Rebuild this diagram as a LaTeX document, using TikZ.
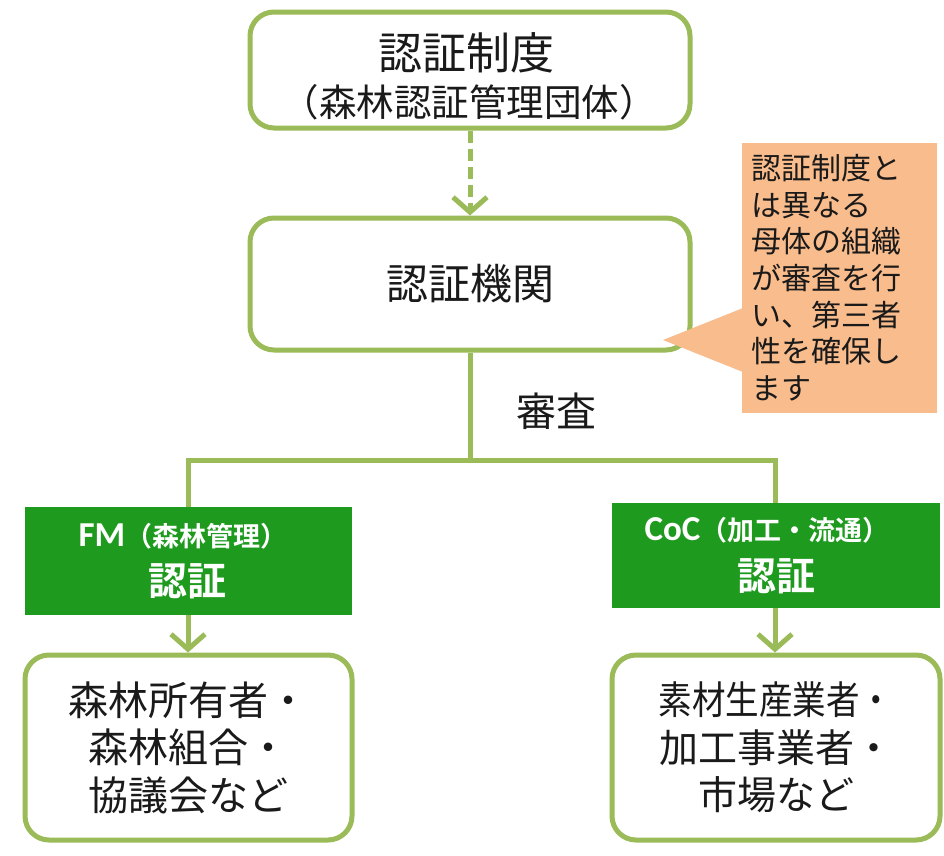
\documentclass[tikz,border=0pt]{standalone}
\usepackage{fontspec}
\setmainfont{Noto Sans CJK JP}[BoldFont={Noto Sans CJK JP Bold}]
\newfontfamily\latfont{Carlito}
\usetikzlibrary{arrows.meta}
\definecolor{olive}{HTML}{9BBB59}
\definecolor{leaf}{HTML}{1E9A1E}
\definecolor{peach}{HTML}{F9BC8C}
\definecolor{ink}{HTML}{1A1A1A}
\tikzset{
  obox/.style={draw=olive, line width=5pt, rounded corners=24pt, fill=white, text=ink, align=center, inner sep=0pt},
  gbox/.style={fill=leaf, text=white, align=center, inner sep=0pt},
  gtext/.style={text=white, inner sep=0pt},
  conn/.style={draw=olive, line width=5pt},
  tip/.style={-{Straight Barb[length=15pt,width=34pt,line width=5pt]}},
  plain/.style={text=ink, inner sep=0pt, align=center},
}
\begin{document}
\begin{tikzpicture}[x=1pt,y=-1pt]
\useasboundingbox (0,0) rectangle (944,855);
\fill[white] (0,0) rectangle (944,855);
% boxes
\node[obox, minimum width=440pt, minimum height=116pt] (top) at (470,70) {};
\node[plain, font=\fontsize{44}{44}\selectfont] (toptitle) at (466,53) {認証制度};
\node[plain, font=\fontsize{37.5}{37.5}\selectfont] (topsub) at (469,102) {（森林認証管理団体）};
\node[obox, minimum width=440pt, minimum height=132pt, font=\fontsize{42}{42}\selectfont] (org) at (470,284) {認証機関};
\draw[conn, tip, dash pattern=on 12pt off 6pt] (top.south) -- (org.north);
% callout
\fill[peach] (742,143) rectangle (937,413);
\fill[peach] (743,308) -- (663,340) -- (743,372) -- cycle;
\node[anchor=north west, align=left, inner sep=0pt, text=ink, font=\fontsize{30}{36.7}\selectfont] (call) at (751,154)
  {認証制度と\\は異なる\\母体の組織\\が審査を行\\い、第三者\\性を確保し\\ます};
% tree
\coordinate (j) at (470,460);
\coordinate (jl) at (188,460);
\coordinate (jr) at (775,460);
\node[gbox, minimum width=327pt, minimum height=108pt] (fm) at (188.5,561) {};
\node[gbox, minimum width=328pt, minimum height=105pt] (coc) at (776,555.5) {};
\node[gtext] (fmlab) at (183,536) {{\latfont\bfseries\fontsize{35}{35}\selectfont FM}{\bfseries\fontsize{27}{27}\selectfont（森林管理）}};
\node[gtext, font=\bfseries\fontsize{39}{39}\selectfont] (fmcert) at (187,581) {認証};
\node[gtext] (coclab) at (767,530) {{\latfont\bfseries\fontsize{35}{35}\selectfont CoC}{\bfseries\fontsize{27}{27}\selectfont（加工・流通）}};
\node[gtext, font=\bfseries\fontsize{39}{39}\selectfont] (coccert) at (776,576) {認証};
\draw[conn] (org.south) -- (j);
\draw[conn] (jl |- fm.north) -- (jl) -- (jr) -- (jr |- coc.north);
\node[plain, font=\fontsize{40}{40}\selectfont] (shinsa) at (556,411) {審査};
\node[obox, minimum width=327pt, minimum height=185pt, font=\fontsize{40}{47.5}\selectfont] (own) at (188.5,747.5) {森林所有者・\\森林組合・\\協議会など};
\node[obox, minimum width=328pt, minimum height=185pt, font=\fontsize{39}{47.5}\selectfont] (proc) at (776,747.5) {\scalebox{0.86}[1]{素材生産業者・}\\加工事業者・\\市場など};
\draw[conn, tip] (fm.south -| jl) -- (own.north -| jl);
\draw[conn, tip] (coc.south -| jr) -- (proc.north -| jr);
\end{tikzpicture}
\end{document}
